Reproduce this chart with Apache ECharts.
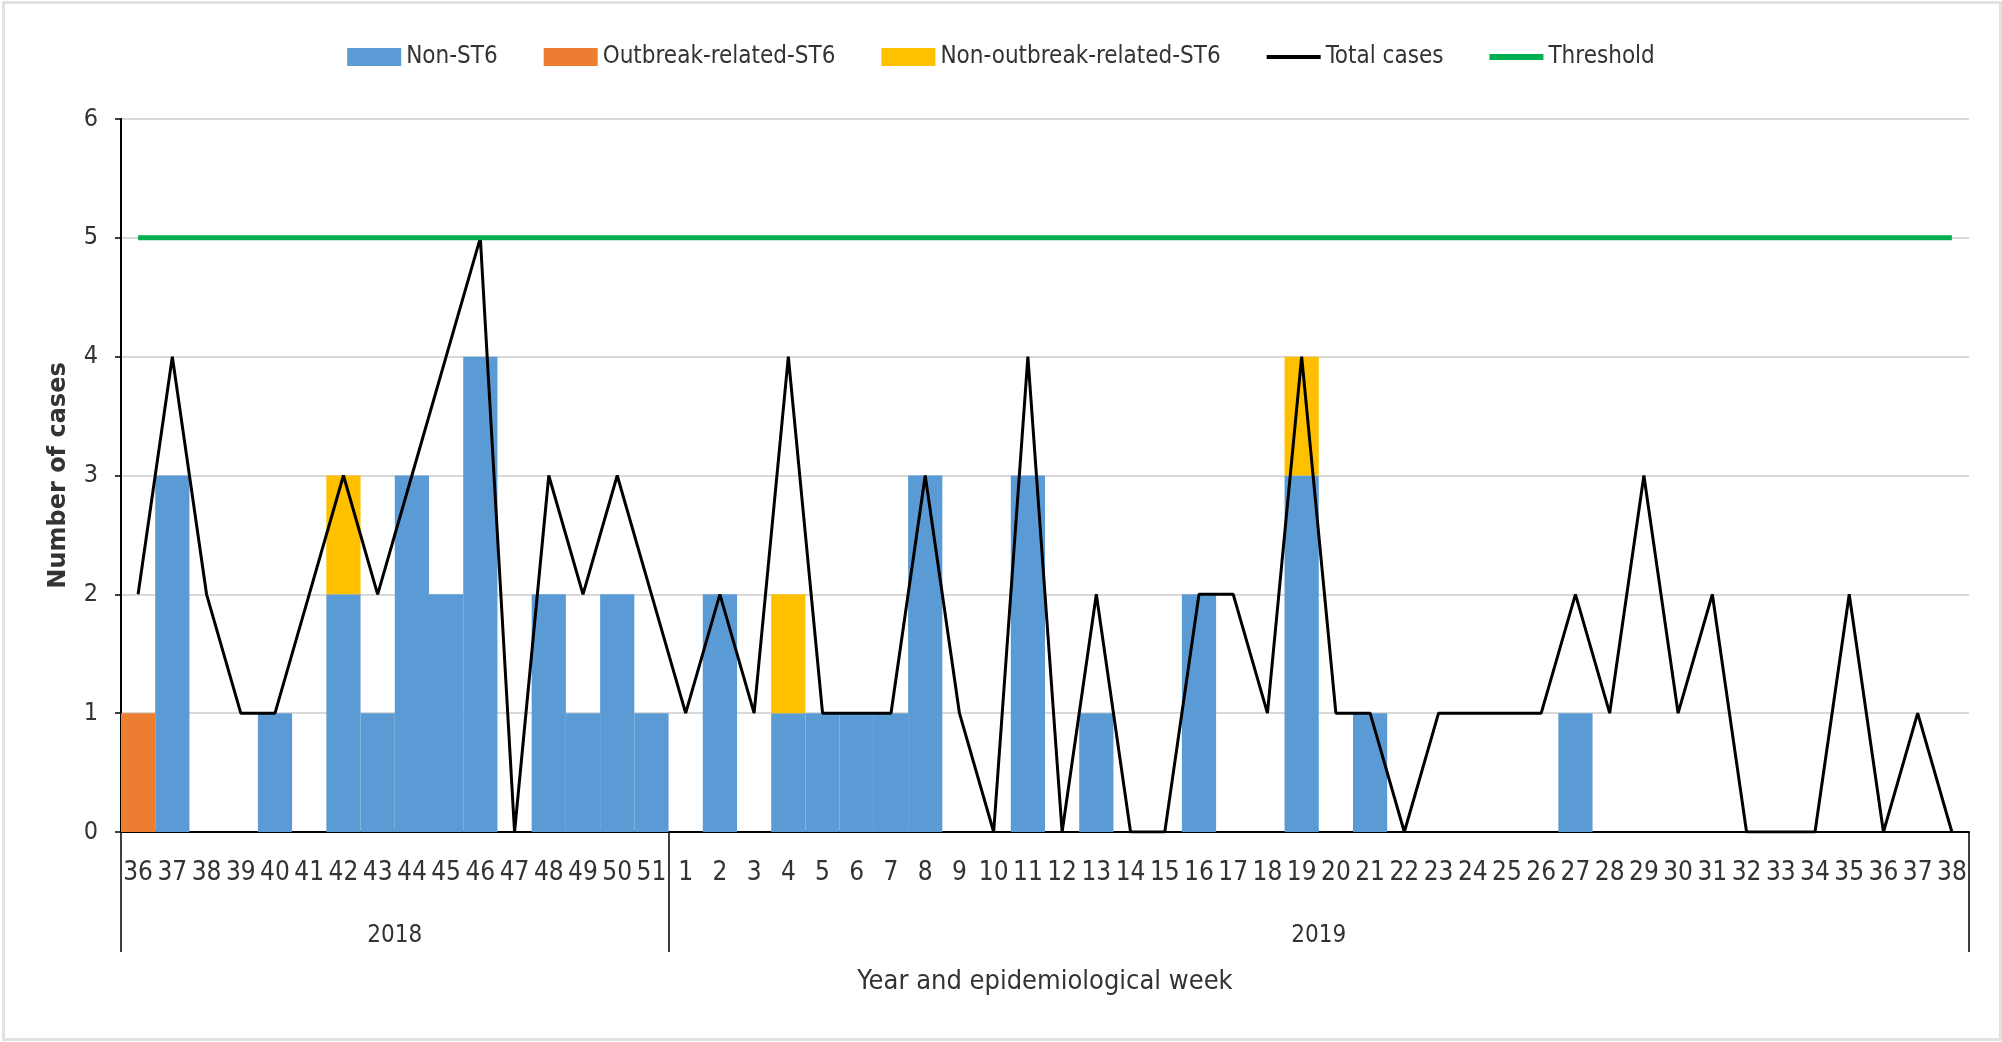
<!DOCTYPE html>
<html>
<head>
<meta charset="utf-8">
<script src="https://cdn.jsdelivr.net/npm/echarts@6/dist/echarts.min.js"></script>
<style>
  html, body { margin: 0; padding: 0; background: #fff; }
  #main { width: 2002px; height: 1042px; }
  #frame { position: absolute; left: 2px; top: 1px; width: 1994px; height: 1034px;
           border: 3px solid #e2e2e2; pointer-events: none; }
</style>
</head>
<body>
<div id="main"></div>
<div id="frame"></div>
<script>
  // epidemiological weeks per year
  var weeks2018 = ['36','37','38','39','40','41','42','43','44','45','46','47','48','49','50','51'];
  var weeks2019 = ['1','2','3','4','5','6','7','8','9','10','11','12','13','14','15','16','17','18','19',
                   '20','21','22','23','24','25','26','27','28','29','30','31','32','33','34','35','36','37','38'];
  var years = ['2018', '2019'];

  // cases per week (2018 wk36 .. 2019 wk38)
  var nonST6 = [0,3,0,0,1,0,2,1,3,2,4,0,2,1,2,1,
                0,2,0,1,1,1,1,3,0,0,3,0,1,0,0,2,0,0,3,0,1,0,0,0,0,0,1,0,0,0,0,0,0,0,0,0,0,0];
  var outbreakST6 = [1,0,0,0,0,0,0,0,0,0,0,0,0,0,0,0,
                     0,0,0,0,0,0,0,0,0,0,0,0,0,0,0,0,0,0,0,0,0,0,0,0,0,0,0,0,0,0,0,0,0,0,0,0,0,0];
  var nonOutbreakST6 = [0,0,0,0,0,0,1,0,0,0,0,0,0,0,0,0,
                        0,0,0,1,0,0,0,0,0,0,0,0,0,0,0,0,0,0,1,0,0,0,0,0,0,0,0,0,0,0,0,0,0,0,0,0,0,0];
  var totalCases = [2,4,2,1,1,2,3,2,3,4,5,0,3,2,3,2,
                    1,2,1,4,1,1,1,3,1,0,4,0,2,0,0,2,2,1,4,1,1,0,1,1,1,1,2,1,3,1,2,0,0,0,2,0,1,0];
  var thresholdLevel = 5;

  var weeksByYear = [weeks2018, weeks2019];
  var categories = [];
  var yearBounds = [0];
  weeksByYear.forEach(function (wk, i) {
    wk.forEach(function (w) { categories.push(years[i] + '-' + w); });
    yearBounds.push(categories.length);
  });
  var yearCenters = years.map(function (y, i) { return (yearBounds[i] + yearBounds[i + 1]) / 2; });
  var thresholdData = categories.map(function () { return thresholdLevel; });

  var font = "'Liberation Sans Narrow', 'DejaVu Sans Condensed', sans-serif";
  var txt = '#333';

  var myChart = echarts.init(document.getElementById('main'));
  myChart.setOption({
    animation: false,
    textStyle: { fontFamily: font },
    legend: {
      top: 40,
      left: 'center',
      itemWidth: 54,
      itemHeight: 18,
      itemGap: 46,
      textStyle: { fontSize: 24, color: txt, fontFamily: font },
      data: [
        { name: 'Non-ST6', icon: 'rect' },
        { name: 'Outbreak-related-ST6', icon: 'rect' },
        { name: 'Non-outbreak-related-ST6', icon: 'rect' },
        { name: 'Total cases', icon: 'path://M0,0 L54,0 L54,4 L0,4 Z' },
        { name: 'Threshold', icon: 'path://M0,0 L54,0 L54,6 L0,6 Z' }
      ]
    },
    grid: [
      { left: 121, right: 33, top: 119, bottom: 210 },
      { left: 121, right: 33, top: 832, bottom: 90 }
    ],
    xAxis: [
      {
        type: 'category',
        gridIndex: 0,
        data: categories,
        axisLine: { lineStyle: { color: '#000', width: 2 } },
        axisTick: { length: 6, lineStyle: { color: '#000', width: 1.5 } },
        axisLabel: {
          interval: 0,
          margin: 28,
          fontSize: 26,
          color: txt,
          formatter: function (v) { return v.split('-')[1]; }
        }
      },
      {
        type: 'category',
        gridIndex: 0,
        position: 'bottom',
        data: categories,
        axisLine: { show: false },
        axisTick: { alignWithLabel: true, interval: 0, length: 6, lineStyle: { color: '#000', width: 1.5 } },
        axisLabel: { show: false }
      },
      {
        type: 'value',
        gridIndex: 1,
        position: 'bottom',
        min: 0,
        max: categories.length,
        axisLine: { show: false },
        splitLine: { show: false },
        axisTick: {
          show: true,
          inside: true,
          length: 120,
          customValues: yearBounds,
          lineStyle: { color: '#000', width: 1.5 }
        },
        axisLabel: {
          inside: true,
          margin: 4,
          fontSize: 24,
          color: txt,
          customValues: yearCenters,
          formatter: function (v) {
            var i = yearCenters.indexOf(v);
            return i >= 0 ? years[i] : '';
          }
        },
        name: 'Year and epidemiological week',
        nameLocation: 'middle',
        nameGap: 16,
        nameTextStyle: { fontSize: 27, color: txt, verticalAlign: 'top' }
      }
    ],
    yAxis: [
      {
        type: 'value',
        gridIndex: 0,
        min: 0,
        max: 6,
        interval: 1,
        axisLine: { show: true, lineStyle: { color: '#000', width: 2 } },
        axisTick: { show: true, length: 6, lineStyle: { color: '#000', width: 1.5 } },
        axisLabel: { fontSize: 25, color: txt, margin: 23 },
        splitLine: { lineStyle: { color: '#d9d9d9', width: 2 } },
        name: 'Number of cases',
        nameLocation: 'middle',
        nameGap: 50,
        nameTextStyle: { fontSize: 24, fontWeight: 'bold', color: txt, fontFamily: "'DejaVu Sans', sans-serif" }
      },
      {
        type: 'value',
        gridIndex: 1,
        show: false
      }
    ],
    series: [
      {
        name: 'Non-ST6',
        type: 'bar',
        stack: 'cases',
        barCategoryGap: '0%',
        itemStyle: { color: '#5B9BD5' },
        data: nonST6
      },
      {
        name: 'Outbreak-related-ST6',
        type: 'bar',
        stack: 'cases',
        itemStyle: { color: '#ED7D31' },
        data: outbreakST6
      },
      {
        name: 'Non-outbreak-related-ST6',
        type: 'bar',
        stack: 'cases',
        itemStyle: { color: '#FFC000' },
        data: nonOutbreakST6
      },
      {
        name: 'Total cases',
        type: 'line',
        showSymbol: false,
        symbol: 'none',
        itemStyle: { color: '#000' },
        lineStyle: { color: '#000', width: 3 },
        data: totalCases
      },
      {
        name: 'Threshold',
        type: 'line',
        showSymbol: false,
        symbol: 'none',
        itemStyle: { color: '#00B050' },
        lineStyle: { color: '#00B050', width: 5 },
        data: thresholdData
      }
    ]
  });
</script>
</body>
</html>
